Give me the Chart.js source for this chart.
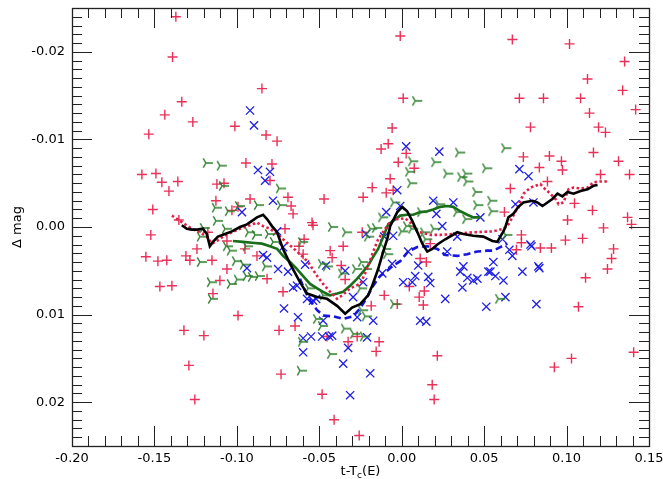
<!DOCTYPE html>
<html>
<head>
<meta charset="utf-8">
<script src="https://cdn.jsdelivr.net/npm/chart.js@4.4.1/dist/chart.umd.min.js"></script>
<style>
  html, body { margin: 0; padding: 0; background: #fff; }
  #wrap { width: 663px; height: 479px; position: relative; }
</style>
</head>
<body>
<div id="wrap"><canvas id="myChart"></canvas></div>
<script>
// axis ticks
var xTicks = [-0.20, -0.15, -0.10, -0.05, 0.00, 0.05, 0.10, 0.15];
var yTicks = [-0.02, -0.01, 0.00, 0.01, 0.02];

// individual measurements [t - Tc(E), delta mag]
var redPlus = [
  [-0.137,-0.0240],[-0.139,-0.0194],[-0.0848,-0.0158],[-0.1334,-0.0143],[-0.1437,-0.0128],[-0.1267,-0.0120],
  [-0.1012,-0.0115],[-0.1534,-0.0106],[-0.0823,-0.0105],[-0.0756,-0.0098],[-0.0945,-0.0073],[-0.0787,-0.0072],
  [-0.1576,-0.0060],[-0.1491,-0.0061],[-0.1455,-0.0051],[-0.1358,-0.0052],[-0.1412,-0.0041],[-0.0799,-0.0053],
  [-0.1121,-0.0049],[-0.0690,-0.0034],[-0.0671,-0.0024],[-0.0659,-0.0015],[-0.0920,-0.0032],[-0.1127,-0.0030],
  [-0.1030,-0.0019],[-0.0993,-0.0023],[-0.0471,-0.0032],[-0.0234,-0.0034],[-0.1510,-0.0020],[-0.1522,0.0009],
  [-0.0708,0.0002],[-0.0538,-0.0002],
  [-0.0009,-0.0218],[0.0671,-0.0214],[0.1018,-0.0209],[0.1352,-0.0189],[0.1127,-0.0169],[0.1340,-0.0156],
  [0.0009,-0.0147],[0.0714,-0.0147],[0.0860,-0.0147],[0.1085,-0.0147],[0.1139,-0.0130],[0.1419,-0.0134],
  [-0.0058,-0.0113],[0.0781,-0.0114],[0.1194,-0.0114],[0.1236,-0.0108],[-0.0125,-0.0089],[-0.0082,-0.0095],
  [-0.0021,-0.0074],[0.0076,-0.0067],[0.1163,-0.0085],[0.0738,-0.0080],[0.0896,-0.0081],[0.0969,-0.0075],
  [0.0975,-0.0065],[0.0835,-0.0068],[0.1315,-0.0075],[0.1206,-0.0060],[0.1382,-0.0060],[-0.0070,-0.0055],
  [-0.0179,-0.0045],[-0.0094,-0.0039],[0.0659,-0.0044],[0.0884,-0.0052],[0.1048,-0.0027],[0.1157,-0.0019],
  [0.1006,-0.0008],[0.1370,-0.0011],[0.1394,-0.0003],[0.1224,0.0001],
  [0.0726,0.0018],[0.0993,0.0015],[0.1097,0.0013],[0.0841,0.0024],[0.0908,0.0024],[0.1285,0.0025],
  [0.1273,0.0036],[0.1248,0.0048],[0.1115,0.0058],[0.1072,0.0091],[0.0112,0.0036],[0.0149,0.0040],
  [0.0046,0.0068],[-0.0106,0.0078],[0.0106,0.0080],[0.0137,0.0073],[-0.0027,0.0088],[0.0131,0.0089],
  [-0.0185,0.0090],[-0.0137,0.0131],[-0.0155,0.0142],[0.0216,0.0147],[0.0185,0.0180],[0.0197,0.0197],
  [0.0926,0.0160],[0.1030,0.0150],[0.1407,0.0143],
  [-0.1552,0.0034],[-0.1479,0.0039],[-0.1425,0.0038],[-0.1467,0.0068],[-0.1394,0.0067],[-0.1309,0.0033],
  [-0.1285,0.0038],[-0.1151,0.0038],[-0.1060,0.0048],[-0.1103,0.0061],[-0.1145,0.0076],[-0.0993,0.0101],
  [-0.1321,0.0118],[-0.1200,0.0124],[-0.1291,0.0158],[-0.1255,0.0197],[-0.0732,0.0168],[-0.0744,0.0118],
  [-0.0483,0.0191],[-0.0410,0.0220],[-0.0258,0.0238],
  [-0.0434,0.0027],[-0.0355,0.0022],[-0.0422,0.0035],[-0.0367,0.0044],[-0.0343,0.0060],[-0.0270,0.0125],
  [-0.0453,0.0125],[-0.0325,0.0131],
  [-0.1078,-0.0050],[-0.0544,-0.0005],[-0.1352,-0.0008],[-0.1176,0.0006],[-0.1242,0.0025],[-0.1060,0.0016],
  [-0.0951,0.0025],[-0.0623,0.0022],[-0.0592,0.0014],
  [0.0027,-0.0084],[-0.0052,-0.0042],[-0.0240,0.0006],[0.0173,0.0019],[0.0623,-0.0017],[0.0726,0.0009],
  [0.0696,0.0026],
  [-0.0878,0.0033],[-0.0817,0.0059],[-0.0720,0.0074],[-0.0647,0.0113],[-0.0598,0.0031]
];

var blueCross = [
  [-0.0920,-0.0133],[-0.0896,-0.0116],[-0.0872,-0.0065],[-0.0799,-0.0063],[-0.0829,-0.0053],[-0.0781,-0.0030],
  [-0.0969,-0.0017],[0.0027,-0.0092],[0.0228,-0.0086],[0.0714,-0.0066],[0.0769,-0.0058],[-0.0027,-0.0042],
  [0.0191,-0.0030],[0.0313,-0.0028],[0.0210,-0.0015],[0.0477,-0.0011],[0.0690,-0.0026],[0.0799,-0.0028],
  [0.0246,-0.0001],[-0.0094,-0.0017],[0.0611,0.0014],[0.0787,0.0022],[0.0653,0.0026],[0.0671,0.0033],
  [0.0556,0.0040],[0.0829,0.0045],[0.0538,0.0051],[0.0732,0.0051],[0.0568,0.0056],[-0.0216,0.0008],
  [-0.0106,0.0011],[-0.0052,0.0010],[0.0039,0.0028],[-0.0058,0.0042],[-0.0118,0.0053],[0.0009,0.0063],
  [0.0064,0.0063],[0.0082,0.0056],[0.0161,0.0057],[0.0173,0.0064],[0.0112,0.0107],[0.0149,0.0108],
  [0.0264,0.0082],[0.0337,0.0011],[0.0276,0.0028],[0.0355,0.0051],[0.0374,0.0045],[0.0398,0.0058],
  [0.0368,0.0069],[0.0434,0.0061],[0.0459,0.0059],[0.0526,0.0051],[0.0617,0.0061],[0.0629,0.0080],
  [0.0513,0.0091],[0.0817,0.0088],[0.0835,0.0047],[-0.0191,0.0167],[-0.0173,0.0107],[-0.0210,0.0126],
  [0.0781,0.0020],[-0.0841,0.0032],[-0.0817,0.0035],[-0.0939,0.0047],[-0.0750,0.0048],[-0.0659,0.0069],
  [-0.0635,0.0067],[-0.0714,0.0093],[-0.0629,0.0103],[-0.0598,0.0127],[-0.0550,0.0125],[-0.0598,0.0143],
  [-0.0440,0.0125],[-0.0422,0.0124],[-0.0343,0.0050],[-0.0355,0.0156],[-0.0313,0.0192],[-0.0270,0.0103],
  [-0.0295,0.0080],[-0.0459,0.0044],[-0.0586,0.0043],[-0.0519,0.0082],[-0.0234,0.0063],[0.0100,0.0044],
  [-0.0325,0.0138],[-0.0483,0.0125],[-0.0756,0.0005],[-0.0720,0.0023],[-0.0690,0.0051],[-0.0574,0.0082],
  [-0.0477,0.0107],[-0.0538,0.0084],[-0.0009,-0.0024]
];

var greenTri = [
  [-0.1176,-0.0073],[-0.1091,-0.0070],[-0.1078,-0.0047],[-0.0732,-0.0044],[-0.0726,-0.0025],[-0.1121,-0.0022],
  [-0.1042,-0.0018],[-0.0866,-0.0025],[-0.0416,0.0000],[-0.0331,0.0006],[-0.1194,0.0001],[-0.1060,0.0002],
  [-0.0920,0.0006],[-0.0799,0.0008],[0.0094,-0.0144],[0.0070,-0.0075],[0.0052,-0.0063],[0.0064,-0.0050],
  [0.0210,-0.0074],[0.0355,-0.0085],[0.0283,-0.0061],[0.0368,-0.0057],[0.0398,-0.0061],[0.0404,-0.0052],
  [0.0519,-0.0067],[0.0635,-0.0090],[0.0459,-0.0040],[0.0550,-0.0030],[0.0465,-0.0025],[0.0556,-0.0018],
  [0.0343,-0.0017],[0.0234,-0.0026],[-0.0039,-0.0028],[0.0125,-0.0017],[-0.0112,-0.0011],[-0.0179,0.0002],
  [0.0009,0.0005],[0.0070,0.0002],[0.0143,0.0006],[-0.0197,0.0011],[-0.0149,0.0001],[0.0039,-0.0001],
  [0.0155,0.0014],[0.0204,0.0002],[0.0398,-0.0009],[-0.1115,-0.0007],[-0.0981,-0.0024],[-0.0878,0.0009],
  [-0.1212,0.0011],[-0.1054,0.0022],[-0.1030,0.0027],[-0.0769,0.0017],[-0.0598,0.0017],[-0.0933,0.0022],
  [-0.1212,0.0040],[-0.0999,0.0039],[-0.0951,0.0043],[-0.0933,0.0056],[-0.0987,0.0060],[-0.1030,0.0065],
  [-0.0902,0.0057],[-0.0860,0.0056],[-0.1151,0.0063],[-0.1145,0.0082],[-0.0817,0.0045],[-0.0447,0.0045],
  [-0.0556,0.0070],[-0.0465,0.0078],[-0.0507,0.0105],[-0.0477,0.0113],[-0.0598,0.0131],[-0.0337,0.0116],
  [-0.0422,0.0145],[-0.0605,0.0164],[-0.0355,0.0053],[-0.0270,0.0048],[-0.0210,0.0048],[-0.0240,0.0070],
  [-0.0234,0.0095],[-0.0477,0.0042],[-0.0082,0.0031],[-0.0039,0.0088],[-0.0282,0.0122],[-0.0210,0.0102],
  [-0.0234,0.0040],[-0.0094,0.0025],[0.0598,0.0082],[-0.0222,0.0125],[0.0641,0.0009]
];

// running means
var blackMean = [
  [-0.1334,-0.0002],[-0.1303,0.0002],[-0.1273,0.0003],[-0.1242,0.0003],[-0.1206,0.0002],[-0.1182,0.0008],
  [-0.1164,0.0022],[-0.1145,0.0017],[-0.1115,0.0011],[-0.1072,0.0008],[-0.1030,0.0005],[-0.0981,0.0000],
  [-0.0939,-0.0003],[-0.0908,-0.0007],[-0.0878,-0.0011],[-0.0841,-0.0014],[-0.0817,-0.0009],[-0.0787,-0.0001],
  [-0.0756,0.0006],[-0.0720,0.0025],[-0.0677,0.0042],[-0.0617,0.0063],[-0.0574,0.0076],[-0.0513,0.0080],
  [-0.0453,0.0082],[-0.0392,0.0090],[-0.0343,0.0099],[-0.0301,0.0092],[-0.0252,0.0088],[-0.0204,0.0078],
  [-0.0179,0.0067],[-0.0143,0.0048],[-0.0112,0.0028],[-0.0088,0.0014],[-0.0070,-0.0001],[-0.0027,-0.0017],
  [0.0003,-0.0023],[0.0033,-0.0018],[0.0064,-0.0007],[0.0100,0.0008],[0.0125,0.0019],[0.0155,0.0028],
  [0.0185,0.0025],[0.0216,0.0020],[0.0264,0.0014],[0.0337,0.0006],[0.0374,0.0008],[0.0434,0.0010],
  [0.0495,0.0011],[0.0550,0.0016],[0.0580,0.0017],[0.0598,0.0011],[0.0617,0.0005],[0.0629,0.0000],
  [0.0647,-0.0011],[0.0677,-0.0015],[0.0708,-0.0023],[0.0738,-0.0028],[0.0793,-0.0030],[0.0823,-0.0028],
  [0.0854,-0.0024],[0.0884,-0.0028],[0.0914,-0.0032],[0.0945,-0.0038],[0.0975,-0.0035],[0.1006,-0.0040],
  [0.1042,-0.0038],[0.1085,-0.0041],[0.1127,-0.0043],[0.1163,-0.0047],[0.1188,-0.0048]
];

var redMean = [
  [-0.1394,-0.0013],[-0.1346,-0.0007],[-0.1273,0.0002],[-0.1224,0.0006],[-0.1182,0.0011],[-0.1151,0.0019],
  [-0.1121,0.0016],[-0.1084,0.0011],[-0.1030,0.0006],[-0.0981,0.0002],[-0.0933,-0.0001],[-0.0878,-0.0005],
  [-0.0841,-0.0001],[-0.0799,0.0002],[-0.0769,0.0006],[-0.0720,0.0014],[-0.0665,0.0023],[-0.0617,0.0031],
  [-0.0568,0.0040],[-0.0513,0.0056],[-0.0477,0.0065],[-0.0434,0.0074],[-0.0392,0.0082],[-0.0361,0.0078],
  [-0.0313,0.0070],[-0.0252,0.0065],[-0.0210,0.0048],[-0.0173,0.0028],[-0.0143,0.0014],[-0.0100,0.0002],
  [-0.0070,-0.0006],[-0.0027,-0.0009],[0.0021,-0.0010],[0.0064,-0.0003],[0.0094,0.0005],[0.0131,0.0007],
  [0.0173,0.0009],[0.0234,0.0009],[0.0313,0.0008],[0.0434,0.0006],[0.0556,0.0005],[0.0617,0.0002],
  [0.0647,-0.0003],[0.0677,-0.0013],[0.0708,-0.0024],[0.0738,-0.0038],[0.0781,-0.0045],[0.0811,-0.0047],
  [0.0841,-0.0049],[0.0860,-0.0045],[0.0890,-0.0040],[0.0933,-0.0032],[0.0951,-0.0026],[0.0981,-0.0028],
  [0.1012,-0.0043],[0.1042,-0.0045],[0.1085,-0.0044],[0.1127,-0.0045],[0.1163,-0.0051],[0.1206,-0.0052],
  [0.1236,-0.0052],[0.1255,-0.0051]
];

var greenMean = [
  [-0.1024,0.0016],[-0.0963,0.0017],[-0.0908,0.0018],[-0.0848,0.0019],[-0.0799,0.0022],[-0.0756,0.0025],
  [-0.0720,0.0033],[-0.0677,0.0040],[-0.0635,0.0048],[-0.0598,0.0056],[-0.0556,0.0065],[-0.0513,0.0070],
  [-0.0477,0.0074],[-0.0434,0.0078],[-0.0392,0.0076],[-0.0355,0.0074],[-0.0313,0.0067],[-0.0270,0.0059],
  [-0.0234,0.0051],[-0.0204,0.0044],[-0.0173,0.0034],[-0.0143,0.0025],[-0.0112,0.0011],[-0.0082,-0.0003],
  [-0.0052,-0.0007],[-0.0009,-0.0013],[0.0033,-0.0014],[0.0070,-0.0014],[0.0112,-0.0017],[0.0155,-0.0018],
  [0.0191,-0.0020],[0.0234,-0.0023],[0.0276,-0.0024],[0.0313,-0.0023],[0.0355,-0.0018],[0.0398,-0.0014],
  [0.0434,-0.0011],[0.0477,-0.0011]
];

var blueMean = [
  [-0.0617,0.0059],[-0.0586,0.0073],[-0.0556,0.0084],[-0.0513,0.0095],[-0.0477,0.0101],[-0.0416,0.0102],
  [-0.0355,0.0105],[-0.0295,0.0102],[-0.0252,0.0093],[-0.0210,0.0080],[-0.0173,0.0067],[-0.0131,0.0056],
  [-0.0088,0.0050],[-0.0052,0.0044],[-0.0009,0.0039],[0.0039,0.0028],[0.0094,0.0023],[0.0155,0.0022],
  [0.0216,0.0025],[0.0264,0.0032],[0.0337,0.0033],[0.0398,0.0031],[0.0459,0.0028],[0.0519,0.0027],
  [0.0556,0.0027],[0.0598,0.0023],[0.0641,0.0019]
];

var xMinorStep = 0.01, yMinorStep = 0.001;

function toXY(arr) {
    return arr.map(function (p) { return { x: p[0], y: p[1] }; });
}

// green "tri" marker: two arms to the left, stem to the right
function makeTri(color) {
    var c = document.createElement('canvas');
    c.width = 14; c.height = 14;
    var g = c.getContext('2d');
    g.strokeStyle = color;
    g.lineWidth = 1.4;
    g.beginPath();
    g.moveTo(5, 7); g.lineTo(12, 7);
    g.moveTo(5, 7); g.lineTo(2.3, 2.3);
    g.moveTo(5, 7); g.lineTo(2.3, 11.7);
    g.stroke();
    return c;
}

var frameTicks = {
    id: 'frameTicks',
    afterDraw: function (chart) {
        var ctx = chart.ctx, a = chart.chartArea;
        var xs = chart.scales.x, ys = chart.scales.y;
        ctx.save();
        ctx.strokeStyle = '#222';
        ctx.lineWidth = 1;
        ctx.beginPath();
        // x ticks, top and bottom, inward
        var nx = Math.round((xs.max - xs.min) / xMinorStep);
        for (var i = 0; i <= nx; i++) {
            var v = xs.min + i * xMinorStep;
            var px = Math.round(xs.getPixelForValue(v)) + 0.5;
            var len = (i % 5 === 0) ? 20 : 10;
            ctx.moveTo(px, a.bottom); ctx.lineTo(px, a.bottom - len);
            ctx.moveTo(px, a.top); ctx.lineTo(px, a.top + len);
        }
        // y ticks, left and right, inward
        var ny = Math.round((ys.max - ys.min) / yMinorStep);
        for (var j = 0; j <= ny; j++) {
            var w = ys.min + j * yMinorStep;
            var py = Math.round(ys.getPixelForValue(w)) + 0.5;
            var l2 = ((j - 5) % 10 === 0) ? 20 : 10;
            ctx.moveTo(a.left, py); ctx.lineTo(a.left + l2, py);
            ctx.moveTo(a.right, py); ctx.lineTo(a.right - l2, py);
        }
        ctx.stroke();
        ctx.lineWidth = 1.3;
        ctx.strokeRect(Math.round(a.left) + 0.5, Math.round(a.top) + 0.5,
            Math.round(a.right - a.left), Math.round(a.bottom - a.top));

        // x title with subscript
        ctx.fillStyle = '#000';
        ctx.textBaseline = 'alphabetic';
        ctx.textAlign = 'left';
        var big = '13px "DejaVu Sans"', small = '9px "DejaVu Sans"';
        ctx.font = big;
        var w1 = ctx.measureText('t-T').width, w3 = ctx.measureText('(E)').width;
        ctx.font = small;
        var w2 = ctx.measureText('c').width;
        var x0 = (a.left + a.right) / 2 - (w1 + w2 + w3) / 2;
        var yb = 475;
        ctx.font = big; ctx.fillText('t-T', x0, yb);
        ctx.font = small; ctx.fillText('c', x0 + w1, yb + 3);
        ctx.font = big; ctx.fillText('(E)', x0 + w1 + w2, yb);
        ctx.restore();
    }
};

Chart.defaults.font.family = '"DejaVu Sans"';
Chart.defaults.font.size = 13;
Chart.defaults.color = '#000';

function DrawChart() {
    const ctx = document.getElementById('myChart');
    new Chart(ctx, {
        type: 'scatter',
        data: {
            datasets: [
                { type: 'line', data: toXY(blackMean), borderColor: '#000', borderWidth: 2.6,
                  pointRadius: 0, tension: 0, fill: false, order: 1 },
                { type: 'line', data: toXY(redMean), borderColor: 'rgb(230,30,70)', borderWidth: 2.6,
                  borderDash: [2.5, 2.5], pointRadius: 0, tension: 0, fill: false, order: 2 },
                { type: 'line', data: toXY(greenMean), borderColor: 'rgb(25,110,25)', borderWidth: 2.6,
                  pointRadius: 0, tension: 0, fill: false, order: 3 },
                { type: 'line', data: toXY(blueMean), borderColor: 'rgb(20,20,220)', borderWidth: 2.6,
                  borderDash: [7, 4], pointRadius: 0, tension: 0, fill: false, order: 4 },
                { data: toXY(greenTri), pointStyle: makeTri('rgb(40,125,40)'), pointRadius: 6, order: 5 },
                { data: toXY(blueCross), pointStyle: 'crossRot', pointRadius: 5.8, borderWidth: 1.3,
                  borderColor: 'rgb(30,30,230)', backgroundColor: 'rgb(30,30,230)', order: 6 },
                { data: toXY(redPlus), pointStyle: 'cross', pointRadius: 5, borderWidth: 1.4,
                  borderColor: 'rgba(230,25,70,0.9)', backgroundColor: 'rgba(230,25,70,0.9)', order: 7 }
            ]
        },
        options: {
            responsive: true,
            maintainAspectRatio: false,
            animation: false,
            events: [],
            layout: { padding: 0 },
            plugins: { legend: { display: false }, tooltip: { enabled: false } },
            scales: {
                x: {
                    type: 'linear', min: -0.20, max: 0.15,
                    grid: { display: false, drawTicks: false },
                    border: { display: false },
                    afterBuildTicks: function (s) { s.ticks = xTicks.map(function (v) { return { value: v }; }); },
                    afterFit: function (s) {
                        s.height = 33;
                        s.paddingLeft = 0; s.paddingRight = 14; s.paddingTop = 0; s.paddingBottom = 0;
                    },
                    ticks: { padding: 5, maxRotation: 0,
                        callback: function (v) { return (Math.abs(v) < 1e-9 ? 0 : v).toFixed(2); } }
                },
                y: {
                    type: 'linear', min: -0.025, max: 0.025, reverse: true,
                    grid: { display: false, drawTicks: false },
                    border: { display: false },
                    afterBuildTicks: function (s) { s.ticks = yTicks.map(function (v) { return { value: v }; }); },
                    afterFit: function (s) {
                        s.width = 72;
                        s.paddingTop = 8; s.paddingBottom = 0; s.paddingLeft = 0; s.paddingRight = 0;
                    },
                    title: { display: true, text: 'Δ mag', padding: { top: 10, bottom: 0 } },
                    ticks: { padding: 7,
                        callback: function (v) { return (Math.abs(v) < 1e-9 ? 0 : v).toFixed(2); } }
                }
            }
        },
        plugins: [frameTicks]
    });
}

DrawChart();
</script>
</body>
</html>
